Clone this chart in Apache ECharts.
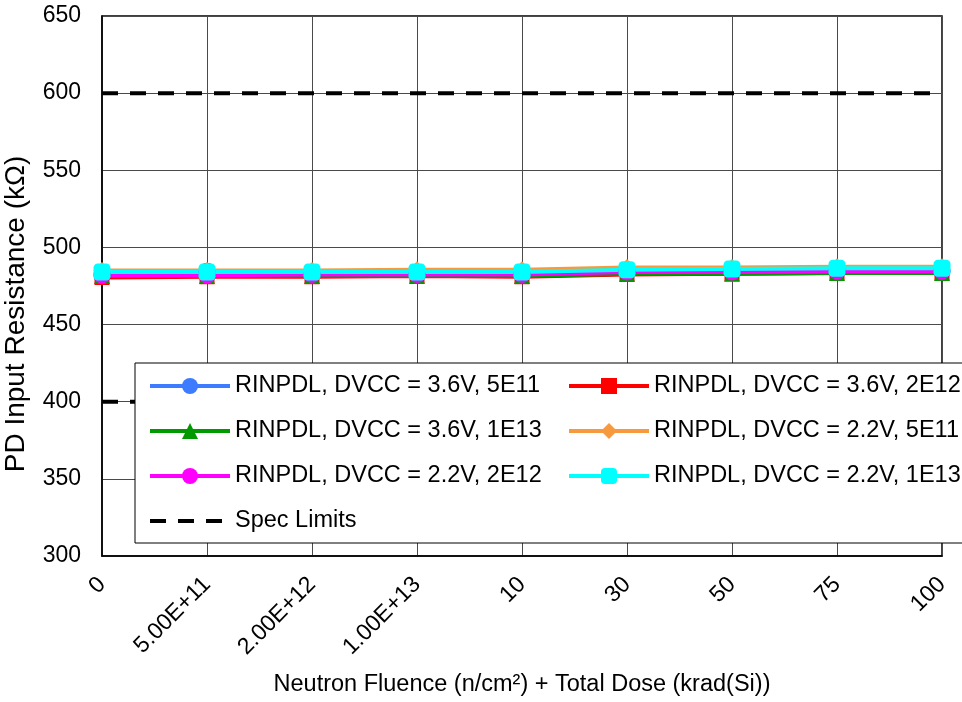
<!DOCTYPE html>
<html><head><meta charset="utf-8">
<script src="https://cdn.jsdelivr.net/npm/echarts@6/dist/echarts.min.js"></script>
<style>html,body{margin:0;padding:0;background:#fff}#c{width:962px;height:702px}</style>
</head><body><div id="c"></div>
<script>
var categories = ['0','5.00E+11','2.00E+12','1.00E+13','10','30','50','75','100'];
var yTicks = [300,350,400,450,500,550,600,650];
var blue36_5E11   = [483.0,484.5,483.0,483.0,483.0,484.0,484.5,485.0,485.0];
var red36_2E12    = [480.5,481.0,481.0,481.5,481.0,482.5,483.0,483.5,483.5];
var green36_1E13  = [481.5,481.5,481.5,481.5,481.5,483.0,483.0,483.5,483.5];
var orange22_5E11 = [485.0,485.0,485.0,485.5,485.5,487.0,487.0,487.5,487.5];
var mag22_2E12    = [482.0,482.0,482.5,482.5,482.5,484.0,484.0,484.5,484.5];
var cyan22_1E13   = [484.0,484.0,484.0,484.0,484.0,485.5,486.0,486.5,486.5];
var specUpper = [600,600,600,600,600,600,600,600,600];
var specLower = [400,400,400,400,400,400,400,400,400];

var FONT = 'Liberation Sans, Arial, sans-serif';
var names = ['RINPDL, DVCC = 3.6V, 5E11','RINPDL, DVCC = 3.6V, 2E12','RINPDL, DVCC = 3.6V, 1E13',
             'RINPDL, DVCC = 2.2V, 5E11','RINPDL, DVCC = 2.2V, 2E12','RINPDL, DVCC = 2.2V, 1E13','Spec Limits'];
function ser(name, data, color, symbol, size){
  return {name:name, type:'line', data:data, symbol:symbol, symbolSize:size,
    lineStyle:{color:color,width:4}, itemStyle:{color:color}, z:2};
}
function specSer(data){
  return {name:names[6], type:'line', data:data, symbol:'circle', showSymbol:false,
    lineStyle:{color:'#000',width:4,type:[16,12]}, itemStyle:{color:'rgba(0,0,0,0)', borderWidth:0}, z:1};
}
function leg(left, data){
  return {z:10, orient:'vertical', left:left, top:373, padding:0, itemWidth:80, itemHeight:20, itemGap:19,
    lineStyle:{width:4}, textStyle:{fontFamily:FONT, fontSize:23.5, color:'#000', lineHeight:26},
    data:data};
}
var chart = echarts.init(document.getElementById('c'), null, {renderer:'canvas'});
chart.setOption({
  animation:false,
  grid:{left:102, top:16, right:20, bottom:146, show:true, borderColor:'#000', borderWidth:1.5,
        backgroundColor:'transparent', containLabel:false, outerBoundsMode:'none'},
  xAxis:{type:'category', data:categories, boundaryGap:false,
    name:'Neutron Fluence (n/cm²) + Total Dose (krad(Si))', nameLocation:'middle', nameGap:117,
    nameTextStyle:{fontFamily:FONT, fontSize:23.5, color:'#000'},
    axisLine:{lineStyle:{color:'#000',width:1.5}}, axisTick:{show:false},
    axisLabel:{rotate:45, fontFamily:FONT, fontSize:23, color:'#000', margin:25},
    splitLine:{show:true, lineStyle:{color:'#4a4a4a',width:1}}},
  yAxis:{type:'value', min:300, max:650, interval:50,
    name:'PD Input Resistance (kΩ)', nameLocation:'middle', nameGap:72,
    nameTextStyle:{fontFamily:FONT, fontSize:28, color:'#000', padding:[0,56,0,0]},
    axisLine:{show:true, lineStyle:{color:'#000',width:1.5}}, axisTick:{show:false},
    axisLabel:{fontFamily:FONT, fontSize:23, color:'#000', margin:21},
    splitLine:{show:true, lineStyle:{color:'#4a4a4a',width:1}}},
  graphic:[{type:'rect', z:5, shape:{x:135, y:363, width:830, height:180},
    style:{fill:'#fff', stroke:'#000', lineWidth:1}}],
  legend:[
    leg(148, [names[0],names[2],names[4],names[6]]),
    leg(567, [names[1],names[3],names[5]])
  ],
  series:[
    ser(names[0], blue36_5E11, '#3d7bff', 'circle', 17),
    ser(names[1], red36_2E12, '#ff0000', 'rect', 15),
    ser(names[2], green36_1E13, '#009a00', 'triangle', 16),
    ser(names[3], orange22_5E11, '#f79a3e', 'diamond', 17),
    ser(names[4], mag22_2E12, '#ff00ff', 'circle', 17),
    ser(names[5], cyan22_1E13, '#00ffff', 'roundRect', 17),
    specSer(specUpper),
    specSer(specLower)
  ]
});
</script></body></html>
